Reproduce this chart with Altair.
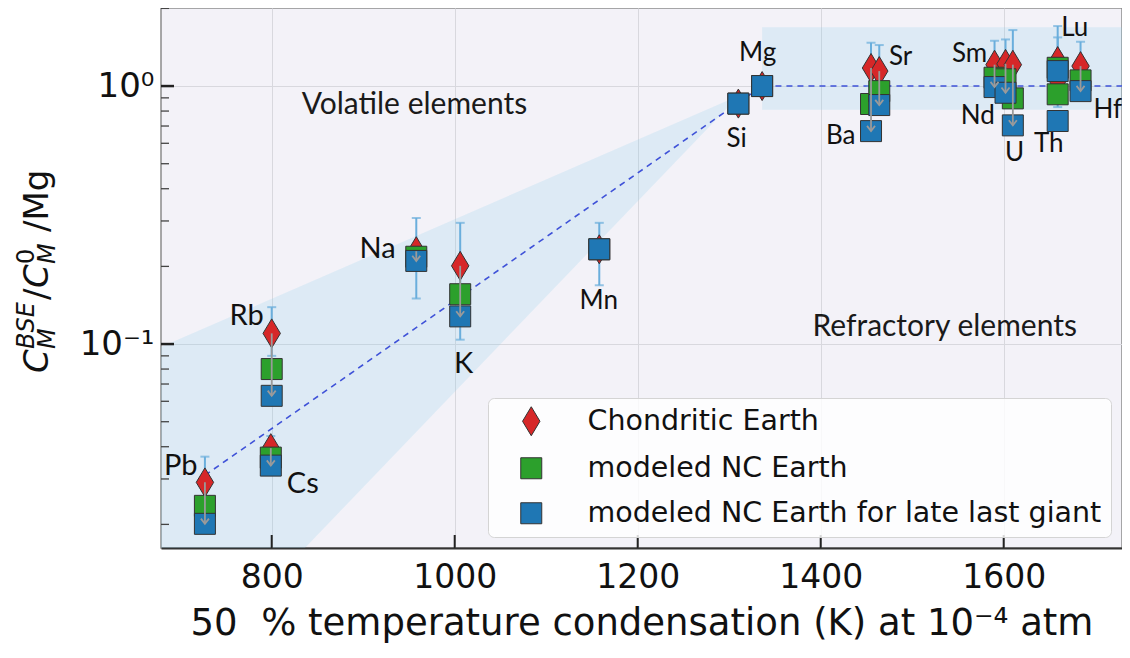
import altair as alt
import pandas as pd

# ---------------- data ----------------
elements = ["Pb", "Cs", "Rb", "Na", "K", "Mn", "Si", "Mg", "Ba", "Sr", "Sm", "Nd", "U", "Th", "Lu", "Hf"]
t50 = [727, 799, 800, 958, 1006, 1158, 1310, 1336, 1455, 1464, 1590, 1602, 1610, 1659, 1659, 1684]
chondritic = [0.0291, 0.0395, 0.110, 0.229, 0.201, 0.233, 0.855, 1.0, 1.175, 1.143, 1.21, 1.219, 1.21, 1.05, 1.25, 1.195]
nc_earth = [0.0236, 0.0363, 0.080, 0.218, 0.156, 0.233, 0.855, 1.0, 0.852, 0.956, 1.077, 1.062, 0.896, 0.929, 1.177, 1.052]
nc_late = [0.0201, 0.0338, 0.063, 0.210, 0.128, 0.233, 0.855, 1.0, 0.669, 0.844, 0.991, 0.942, 0.704, 0.732, 1.143, 0.956]

err_elements = ["Pb", "Cs", "Rb", "Na", "K", "Mn", "Ba", "Sr", "Sm", "Nd", "U", "Th", "Lu", "Hf"]
err_lo = [0.025, 0.036, 0.09, 0.150, 0.104, 0.169, 1.0, 0.95, 1.05, 1.05, 1.0, 0.829, 1.1, 1.0]
err_hi = [0.0366, 0.044, 0.139, 0.308, 0.295, 0.295, 1.472, 1.442, 1.498, 1.516, 1.648, 1.544, 1.708, 1.485]

arrow_elements = ["Pb", "Cs", "Rb", "Na", "K", "Ba", "Sr", "Sm", "Nd", "U", "Hf"]

# element label anchors (data units)
label_T = [700.5, 833.9, 772.7, 915.8, 1009.8, 1157.4, 1308.2, 1331.1, 1421.9, 1487.4, 1562.8, 1571.6, 1612, 1649.2, 1677.6, 1713.7]
label_v = [0.0337, 0.0287, 0.1284, 0.2335, 0.0837, 0.1468, 0.623, 1.342, 0.640, 1.295, 1.331, 0.765, 0.550, 0.596, 1.678, 0.807]
big_labels = ["Pb", "Cs", "Rb", "Na", "K"]

# trend (dashed) and shaded bands
trend_T = [727, 1336, 1740]
trend_v = [0.031, 1.0, 1.0]
wedge_T = [679, 1311]
wedge_upper = [0.0974, 0.92]
wedge_lower = [0.00425, 0.92]
band_T = [1336, 1740]
band_v = [0.81, 1.69]

series_names = ["Chondritic Earth", "modeled NC Earth", "modeled NC Earth for late last giant"]
series_colors = ["#d62728", "#2ca02c", "#1f77b4"]

x_ticks = [800, 1000, 1200, 1400, 1600]
y_major = [0.1, 1.0]
y_minor = [0.02, 0.03, 0.04, 0.05, 0.06, 0.07, 0.08, 0.09,
           0.2, 0.3, 0.4, 0.5, 0.6, 0.7, 0.8, 0.9, 2.0]

# ---------------- tables ----------------
idx = {e: i for i, e in enumerate(elements)}
pts = pd.DataFrame({
    "el": elements * 3,
    "T": t50 * 3,
    "v": chondritic + nc_earth + nc_late,
    "series": [series_names[0]] * len(elements) + [series_names[1]] * len(elements) + [series_names[2]] * len(elements),
})
err = pd.DataFrame({"T": [t50[idx[e]] for e in err_elements], "lo": err_lo, "hi": err_hi})
arr = pd.DataFrame({
    "T": [t50[idx[e]] for e in arrow_elements],
    "v0": [chondritic[idx[e]] for e in arrow_elements],
    "v1": [nc_late[idx[e]] for e in arrow_elements],
})
labels = pd.DataFrame({"el": elements, "T": label_T, "v": label_v})
labels["big"] = labels["el"].isin(big_labels)
trend = pd.DataFrame({"T": trend_T, "v": trend_v})
wedge = pd.DataFrame({"T": wedge_T, "up": wedge_upper, "lo": wedge_lower})
band = pd.DataFrame({"T0": [band_T[0]], "T1": [band_T[1]], "v0": [band_v[0]], "v1": [band_v[1]]})
xt = pd.DataFrame({"T": x_ticks})
ymaj = pd.DataFrame({"v": y_major})
ymin = pd.DataFrame({"v": y_minor})

# ---------------- scales / axes ----------------
W, H = 961, 540
XTITLE = "50\u00a0\u00a0% temperature condensation (K) at 10\u207b\u2074 atm"
x_scale = alt.Scale(domain=[679, 1729.3], nice=False, zero=False)
y_scale = alt.Scale(type="log", domain=[0.0162, 2.007], nice=False)
x_axis = alt.Axis(values=x_ticks, format="d", ticks=False, grid=True, gridColor="#d8d8de", gridWidth=1,
                  domain=True, domainColor="#333333", domainWidth=2,
                  labelFont="DejaVu Sans", labelFontSize=33, labelColor="#111111", labelPadding=13,
                  title=XTITLE, titleFont="DejaVu Sans", titleFontSize=37, titleFontWeight="normal",
                  titleColor="#111111", titlePadding=11)
y_axis = alt.Axis(values=y_major, ticks=False, grid=True, gridColor="#d8d8de", gridWidth=1,
                  domain=False, labelExpr="datum.value >= 0.5 ? '10\u2070' : '10\u207b\u00b9'",
                  labelFont="DejaVu Sans", labelFontSize=34, labelColor="#111111", labelPadding=7,
                  title=None)


def X(f):
    return alt.X(f"{f}:Q", scale=x_scale, axis=x_axis)


def Y(f):
    return alt.Y(f"{f}:Q", scale=y_scale, axis=y_axis)


SHADE = "#87ceeb"

wedge_layer = alt.Chart(wedge).mark_area(color=SHADE, opacity=0.2, clip=True).encode(
    x=X("T"), y=Y("up"), y2=alt.Y2("lo:Q"))
band_layer = alt.Chart(band).mark_rect(color=SHADE, opacity=0.2, clip=True).encode(
    x=X("T0"), x2=alt.X2("T1:Q"), y=Y("v0"), y2=alt.Y2("v1:Q"))
trend_layer = alt.Chart(trend).mark_line(color="#3f52d8", strokeDash=[6, 5], strokeWidth=1.6, clip=True).encode(
    x=X("T"), y=Y("v"))

ERR = "#6aaedc"
err_line = alt.Chart(err).mark_rule(color=ERR, strokeWidth=2).encode(x=X("T"), y=Y("lo"), y2=alt.Y2("hi:Q"))
err_cap_hi = alt.Chart(err).mark_tick(color=ERR, orient="horizontal", size=9, thickness=2).encode(x=X("T"), y=Y("hi"))
err_cap_lo = alt.Chart(err).mark_tick(color=ERR, orient="horizontal", size=9, thickness=2).encode(x=X("T"), y=Y("lo"))

DIAMOND = "M0,-1.38L0.83,0L0,1.38L-0.83,0Z"
leg = alt.Legend(title=None, orient="none", legendX=327, legendY=390,
                 labelFont="DejaVu Sans", labelFontSize=28.5, labelColor="#111111", labelLimit=700,
                 symbolSize=441, symbolStrokeColor="#333333", symbolStrokeWidth=1, symbolOffset=20,
                 labelOffset=42, rowPadding=16, padding=9,
                 fillColor="rgba(255,255,255,0.82)", strokeColor="#d4d4d4", cornerRadius=6)
points = alt.Chart(pts).mark_point(filled=True, size=441, stroke="#333333", strokeWidth=1, opacity=1).encode(
    x=X("T"), y=Y("v"),
    color=alt.Color("series:N", scale=alt.Scale(domain=series_names, range=series_colors), legend=leg),
    shape=alt.Shape("series:N", scale=alt.Scale(domain=series_names, range=[DIAMOND, "square", "square"]), legend=leg),
)

arrow_line = alt.Chart(arr).mark_rule(color="#9a9a9a", strokeWidth=1.8).encode(x=X("T"), y=Y("v0"), y2=alt.Y2("v1:Q"))
arrow_head = alt.Chart(arr).mark_point(shape="M-1,-1.3L0,0L1,-1.3", filled=False, size=64, color="#9a9a9a",
                                       strokeWidth=1.8, opacity=1).encode(x=X("T"), y=Y("v1"))

lab_big = alt.Chart(labels).transform_filter("datum.big").mark_text(
    font="Lato", fontSize=29, color="#111111", align="center", baseline="middle").encode(
    x=X("T"), y=Y("v"), text="el:N")
lab_small = alt.Chart(labels).transform_filter("!datum.big").mark_text(
    font="Lato", fontSize=26, color="#111111", align="center", baseline="middle").encode(
    x=X("T"), y=Y("v"), text="el:N")

notes = pd.DataFrame({"T": [956, 1535.5], "v": [0.844, 0.1164], "txt": ["Volatile elements", "Refractory elements"]})
note_layer = alt.Chart(notes).mark_text(font="Lato", fontSize=30, color="#1a1a1a", align="center",
                                        baseline="middle").encode(x=X("T"), y=Y("v"), text="txt:N")

# inward ticks
xtick_layer = alt.Chart(xt).mark_rule(color="#222222", strokeWidth=2).encode(
    x=X("T"), y=alt.value(H - 13), y2=alt.value(H))
ymaj_layer = alt.Chart(ymaj).mark_rule(color="#222222", strokeWidth=2.5).encode(
    y=Y("v"), x=alt.value(0), x2=alt.value(13))
ymin_layer = alt.Chart(ymin).mark_rule(color="#444444", strokeWidth=1.3).encode(
    y=Y("v"), x=alt.value(0), x2=alt.value(8))


# y-axis title built from pieces (math-style sub/superscripts)
def piece(txt, px, py, size, italic):
    kw = dict(text=txt, angle=270, align="left", baseline="alphabetic", fontSize=size,
              font="DejaVu Sans", color="#111111")
    if italic:
        kw["fontStyle"] = "italic"
    return alt.Chart(pd.DataFrame({"k": [0]})).mark_text(**kw).encode(x=alt.value(px), y=alt.value(py))


BASE = -113
ytitle = [
    piece("C", BASE, 365, 34, True),
    piece("BSE", BASE - 14, 341, 24, True),
    piece("M", BASE + 7, 341, 24, True),
    piece("/", BASE, 292, 34, False),
    piece("C", BASE, 280, 34, True),
    piece("0", BASE - 14, 256, 24, False),
    piece("M", BASE + 7, 256, 24, True),
    piece("/Mg", BASE, 224, 34, False),
]

chart = alt.layer(
    wedge_layer, band_layer, trend_layer, err_line, err_cap_hi, err_cap_lo,
    points, arrow_line, arrow_head, lab_big, lab_small, note_layer,
    xtick_layer, ymaj_layer, ymin_layer, *ytitle,
).properties(
    width=W, height=H,
    padding={"left": 153, "top": 0, "right": 0, "bottom": 100},
    autosize=alt.AutoSizeParams(type="none"),
    background="white",
).configure_view(
    fill="#f3f2f8", stroke="#8c8c8c", strokeWidth=1.5,
)

chart.save("out.html", embed_options={"renderer": "svg", "actions": False})
